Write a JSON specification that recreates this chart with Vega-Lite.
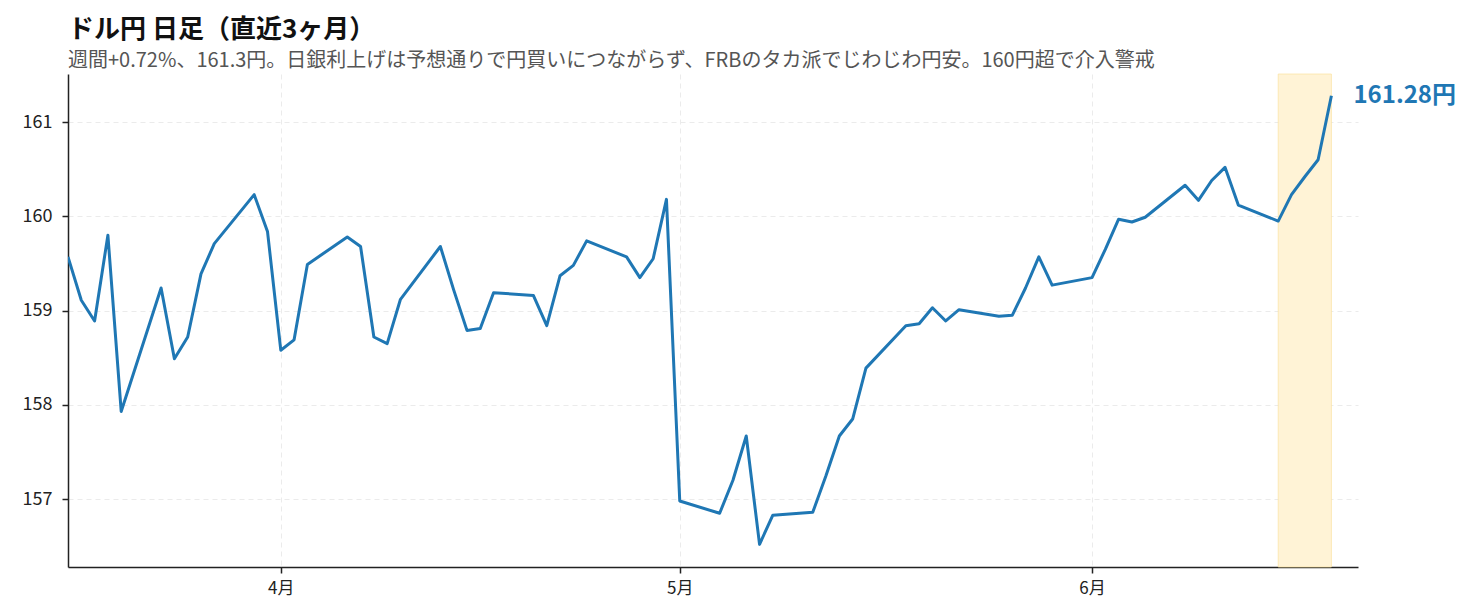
{
  "$schema": "https://vega.github.io/schema/vega-lite/v6.json",
  "width": 1290,
  "height": 493,
  "autosize": {"type": "none"},
  "padding": {"left": 68, "top": 74, "right": 124, "bottom": 49},
  "background": "white",
  "config": {
    "font": "Noto Sans CJK JP",
    "view": {"stroke": null}
  },
  "title": {
    "text": "ドル円 日足（直近3ヶ月）",
    "subtitle": "週間+0.72%、161.3円。日銀利上げは予想通りで円買いにつながらず、FRBのタカ派でじわじわ円安。160円超で介入警戒",
    "anchor": "start",
    "frame": "group",
    "fontSize": 26,
    "fontWeight": "bold",
    "color": "#111111",
    "subtitleFontSize": 20,
    "subtitleColor": "#555555",
    "subtitlePadding": 8,
    "offset": 3
  },
  "datasets": {
    "fx": [
      {"date": "2026-03-16", "value": 159.57},
      {"date": "2026-03-17", "value": 159.11},
      {"date": "2026-03-18", "value": 158.89},
      {"date": "2026-03-19", "value": 159.80},
      {"date": "2026-03-20", "value": 157.93},
      {"date": "2026-03-23", "value": 159.24},
      {"date": "2026-03-24", "value": 158.49},
      {"date": "2026-03-25", "value": 158.72},
      {"date": "2026-03-26", "value": 159.39},
      {"date": "2026-03-27", "value": 159.71},
      {"date": "2026-03-30", "value": 160.23},
      {"date": "2026-03-31", "value": 159.84},
      {"date": "2026-04-01", "value": 158.58},
      {"date": "2026-04-02", "value": 158.69},
      {"date": "2026-04-03", "value": 159.49},
      {"date": "2026-04-06", "value": 159.78},
      {"date": "2026-04-07", "value": 159.68},
      {"date": "2026-04-08", "value": 158.72},
      {"date": "2026-04-09", "value": 158.65},
      {"date": "2026-04-10", "value": 159.12},
      {"date": "2026-04-13", "value": 159.68},
      {"date": "2026-04-14", "value": 159.22},
      {"date": "2026-04-15", "value": 158.79},
      {"date": "2026-04-16", "value": 158.81},
      {"date": "2026-04-17", "value": 159.19},
      {"date": "2026-04-20", "value": 159.16},
      {"date": "2026-04-21", "value": 158.84},
      {"date": "2026-04-22", "value": 159.37},
      {"date": "2026-04-23", "value": 159.48},
      {"date": "2026-04-24", "value": 159.74},
      {"date": "2026-04-27", "value": 159.57},
      {"date": "2026-04-28", "value": 159.35},
      {"date": "2026-04-29", "value": 159.55},
      {"date": "2026-04-30", "value": 160.18},
      {"date": "2026-05-01", "value": 156.98},
      {"date": "2026-05-04", "value": 156.85},
      {"date": "2026-05-05", "value": 157.20},
      {"date": "2026-05-06", "value": 157.67},
      {"date": "2026-05-07", "value": 156.52},
      {"date": "2026-05-08", "value": 156.83},
      {"date": "2026-05-11", "value": 156.86},
      {"date": "2026-05-12", "value": 157.25},
      {"date": "2026-05-13", "value": 157.67},
      {"date": "2026-05-14", "value": 157.85},
      {"date": "2026-05-15", "value": 158.39},
      {"date": "2026-05-18", "value": 158.84},
      {"date": "2026-05-19", "value": 158.86},
      {"date": "2026-05-20", "value": 159.03},
      {"date": "2026-05-21", "value": 158.89},
      {"date": "2026-05-22", "value": 159.01},
      {"date": "2026-05-25", "value": 158.94},
      {"date": "2026-05-26", "value": 158.95},
      {"date": "2026-05-27", "value": 159.24},
      {"date": "2026-05-28", "value": 159.57},
      {"date": "2026-05-29", "value": 159.27},
      {"date": "2026-06-01", "value": 159.35},
      {"date": "2026-06-02", "value": 159.65},
      {"date": "2026-06-03", "value": 159.97},
      {"date": "2026-06-04", "value": 159.94},
      {"date": "2026-06-05", "value": 159.99},
      {"date": "2026-06-08", "value": 160.33},
      {"date": "2026-06-09", "value": 160.17},
      {"date": "2026-06-10", "value": 160.38},
      {"date": "2026-06-11", "value": 160.52},
      {"date": "2026-06-12", "value": 160.12},
      {"date": "2026-06-15", "value": 159.95},
      {"date": "2026-06-16", "value": 160.23},
      {"date": "2026-06-17", "value": 160.42},
      {"date": "2026-06-18", "value": 160.60},
      {"date": "2026-06-19", "value": 161.28}
    ],
    "band": [{"start": "2026-06-15", "end": "2026-06-19"}],
    "label": [{"date": "2026-06-19", "value": 161.28, "label": "161.28円"}]
  },
  "layer": [
    {
      "data": {"name": "band"},
      "mark": {"type": "rect", "color": "#fff3d6", "opacity": 1, "stroke": "#fbe3a0", "strokeWidth": 1, "strokeOpacity": 0.7},
      "encoding": {
        "x": {"field": "start", "type": "temporal", "scale": {"type": "utc", "domain": [{"year": 2026, "month": 3, "date": 16, "utc": true}, {"year": 2026, "month": 6, "date": 21, "utc": true}]}, "axis": {
          "title": null,
          "values": [{"year": 2026, "month": 4, "date": 1, "utc": true}, {"year": 2026, "month": 5, "date": 1, "utc": true}, {"year": 2026, "month": 6, "date": 1, "utc": true}],
          "labelExpr": "utcFormat(datum.value, '%-m') + '月'",
          "labelFontSize": 17,
          "labelColor": "#222222",
          "labelPadding": 7,
          "domainColor": "#222222",
          "domainWidth": 1.5,
          "tickColor": "#222222",
          "tickWidth": 1.5,
          "tickSize": 6,
          "grid": true,
          "gridColor": "#ebebeb",
          "gridDash": [5, 4],
          "gridWidth": 1
        }},
        "x2": {"field": "end"}
      }
    },
    {
      "data": {"name": "fx"},
      "mark": {"type": "line", "color": "#1f77b4", "strokeWidth": 3, "strokeJoin": "round", "clip": true},
      "encoding": {
        "x": {"field": "date", "type": "temporal"},
        "y": {"field": "value", "type": "quantitative", "scale": {"domain": [156.28, 161.51], "nice": false, "zero": false}, "axis": {
          "title": null,
          "values": [157, 158, 159, 160, 161],
          "format": "d",
          "labelFontSize": 18,
          "labelColor": "#222222",
          "labelPadding": 10,
          "domainColor": "#222222",
          "domainWidth": 1.5,
          "tickColor": "#222222",
          "tickWidth": 1.5,
          "tickSize": 6,
          "grid": true,
          "gridColor": "#ebebeb",
          "gridDash": [5, 4],
          "gridWidth": 1
        }}
      }
    },
    {
      "data": {"name": "label"},
      "mark": {"type": "text", "align": "left", "baseline": "middle", "dx": 22, "fontSize": 24, "fontWeight": "bold", "color": "#1f77b4"},
      "encoding": {
        "x": {"field": "date", "type": "temporal"},
        "y": {"field": "value", "type": "quantitative"},
        "text": {"field": "label"}
      }
    }
  ]
}
